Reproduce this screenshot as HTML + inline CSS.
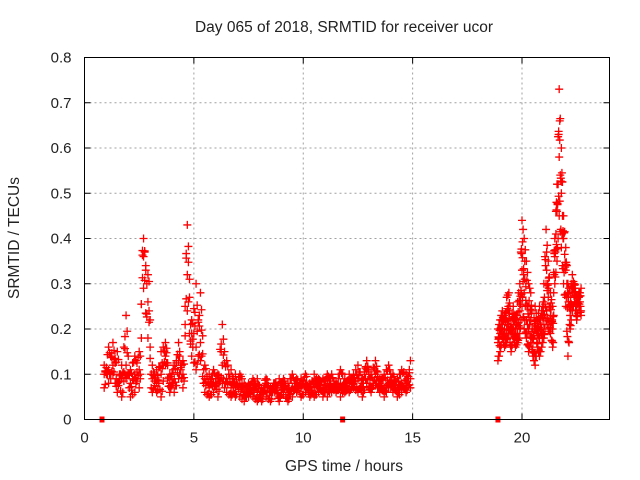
<!DOCTYPE html>
<html><head><meta charset="utf-8"><style>
body{margin:0;background:#fff;}
svg{display:block;font-family:"Liberation Sans",sans-serif;}
</style></head><body>
<svg id="chart" width="640" height="480">
<rect width="640" height="480" fill="#fff"/>
<text x="344" y="32" text-anchor="middle" font-size="15.5" fill="#222">Day 065 of 2018, SRMTID for receiver ucor</text>
<text x="344" y="471" text-anchor="middle" font-size="15.5" fill="#222">GPS time / hours</text>
<text transform="translate(19,238) rotate(-90)" text-anchor="middle" font-size="15.5" fill="#222">SRMTID / TECUs</text>
<g id="grid"></g>
<g id="marks"></g>
<rect x="84.5" y="57.5" width="525" height="362" fill="none" stroke="#000"/>
<g id="ticks"></g>
</svg>
<script>
const xTicks=[0,5,10,15,20];
const yTicks=[0,0.1,0.2,0.3,0.4,0.5,0.6,0.7,0.8];
const yTickLabels=["0","0.1","0.2","0.3","0.4","0.5","0.6","0.7","0.8"];
const times1=[0.9,1.1,1.3,1.5,1.7,1.9,2.1,2.3,2.5,2.7,2.9,3.1,3.3,3.5,3.7,3.9,4.1,4.3,4.5,4.7,4.9,5.1,5.3,5.5,5.7,5.9,6.1,6.3,6.5,6.7,6.9,7.1,7.3,7.5,7.7,7.9,8.1,8.3,8.5,8.7,8.9,9.1,9.3,9.5,9.7,9.9,10.1,10.3,10.5,10.7,10.9,11.1,11.3,11.5,11.7,11.9,12.1,12.3,12.5,12.7,12.9,13.1,13.3,13.5,13.7,13.9,14.1,14.3,14.5,14.7,14.9];
const valsA1=[0.07,0.16,0.12,0.15,0.05,0.12,0.08,0.10,0.15,0.36,0.32,0.12,0.08,0.15,0.17,0.08,0.12,0.13,0.10,0.32,0.22,0.16,0.28,0.09,0.10,0.08,0.10,0.21,0.09,0.11,0.07,0.08,0.06,0.08,0.07,0.09,0.06,0.08,0.07,0.06,0.09,0.07,0.08,0.10,0.06,0.09,0.08,0.07,0.10,0.08,0.09,0.08,0.10,0.07,0.11,0.09,0.08,0.10,0.12,0.09,0.11,0.10,0.13,0.08,0.10,0.12,0.08,0.09,0.11,0.10,0.09];
const valsB1=[0.10,0.11,0.17,0.08,0.09,0.23,0.05,0.06,0.11,0.40,0.26,0.06,0.11,0.05,0.12,0.06,0.09,0.17,0.07,0.43,0.19,0.30,0.13,0.06,0.05,0.06,0.09,0.08,0.06,0.05,0.10,0.05,0.04,0.06,0.05,0.04,0.07,0.05,0.04,0.08,0.05,0.06,0.04,0.07,0.09,0.05,0.06,0.08,0.05,0.06,0.07,0.05,0.07,0.06,0.08,0.06,0.10,0.07,0.06,0.08,0.13,0.07,0.08,0.06,0.07,0.08,0.06,0.07,0.08,0.06,0.13];
const valsC1=[0.12,0.08,0.10,0.06,0.12,0.09,0.11,0.14,0.07,0.29,0.18,0.09,0.06,0.10,0.14,0.10,0.06,0.09,0.13,0.24,0.14,0.11,0.17,0.12,0.07,0.11,0.05,0.12,0.13,0.07,0.05,0.10,0.08,0.05,0.09,0.06,0.04,0.09,0.06,0.08,0.04,0.09,0.06,0.05,0.08,0.07,0.10,0.05,0.07,0.09,0.05,0.10,0.06,0.08,0.05,0.07,0.06,0.08,0.09,0.05,0.08,0.06,0.10,0.09,0.05,0.07,0.10,0.05,0.06,0.08,0.07];
const times2=[18.9,19.0,19.1,19.2,19.3,19.4,19.5,19.6,19.7,19.8,19.9,20.0,20.1,20.2,20.3,20.4,20.5,20.6,20.7,20.8,20.9,21.0,21.1,21.2,21.3,21.4,21.5,21.6,21.7,21.8,21.9,22.0,22.1,22.2,22.3,22.4,22.5,22.6,22.7];
const valsA2=[0.20,0.22,0.24,0.20,0.27,0.28,0.22,0.25,0.20,0.26,0.30,0.44,0.40,0.35,0.30,0.28,0.20,0.25,0.22,0.25,0.20,0.30,0.42,0.35,0.28,0.25,0.40,0.52,0.73,0.60,0.45,0.38,0.30,0.28,0.32,0.29,0.27,0.28,0.24];
const valsB2=[0.13,0.15,0.18,0.16,0.17,0.19,0.15,0.18,0.16,0.17,0.19,0.25,0.20,0.18,0.15,0.17,0.14,0.12,0.16,0.14,0.16,0.18,0.22,0.20,0.19,0.16,0.30,0.35,0.45,0.38,0.30,0.25,0.14,0.20,0.24,0.26,0.22,0.25,0.23];
const valsC2=[0.17,0.19,0.21,0.23,0.20,0.22,0.19,0.21,0.23,0.19,0.24,0.33,0.28,0.22,0.20,0.22,0.17,0.20,0.19,0.18,0.24,0.21,0.30,0.27,0.23,0.20,0.36,0.46,0.58,0.50,0.40,0.33,0.27,0.23,0.28,0.30,0.25,0.27,0.29];
const zeroTimes=[0.8,11.8,18.9];

const L=84.5,R=609.5,T=57.5,B=419.5,XMAX=24,YMAX=0.8;
const xs=v=>L+(R-L)*v/XMAX;
const ys=v=>B-(B-T)*v/YMAX;
const NS="http://www.w3.org/2000/svg";
function mk(tag,attrs,parent){const e=document.createElementNS(NS,tag);for(const k in attrs)e.setAttribute(k,attrs[k]);parent.appendChild(e);return e;}
const grid=document.getElementById('grid'),ticks=document.getElementById('ticks'),marks=document.getElementById('marks');
xTicks.forEach(t=>{
  const x=xs(t);
  if(t>0){const g=mk('line',{x1:x,x2:x,y1:T,y2:B,stroke:'#a0a0a0','stroke-dasharray':'2,3'},grid);
  
  }
  mk('line',{x1:x,x2:x,y1:B,y2:B-6,stroke:'#000'},ticks);
  mk('line',{x1:x,x2:x,y1:T,y2:T+6,stroke:'#000'},ticks);
  const tx=mk('text',{x:x,y:B+23,'text-anchor':'middle','font-size':15,fill:'#222'},ticks);
  tx.textContent=String(t);
  
  
});
yTicks.forEach((t,i)=>{
  const y=ys(t);
  if(t>0&&t<YMAX){const g=mk('line',{x1:L,x2:R,y1:y,y2:y,stroke:'#a0a0a0','stroke-dasharray':'2,3'},grid);
  
  }
  mk('line',{x1:L,x2:L+6,y1:y,y2:y,stroke:'#000'},ticks);
  mk('line',{x1:R,x2:R-6,y1:y,y2:y,stroke:'#000'},ticks);
  const tx=mk('text',{x:L-13,y:y+5,'text-anchor':'end','font-size':15,fill:'#222'},ticks);
  tx.textContent=yTickLabels[i];
  
  
});
function plus(t,v){
  const x=xs(t),y=ys(v);
  const p=mk('path',{d:`M${x-4},${y}H${x+4}M${x},${y-4}V${y+4}`,stroke:'#f00','stroke-width':1.3,fill:'none'},marks);
  
  
}
function drawSeg(ts,sets){
  sets.forEach((vs,k)=>{
    const other=sets[(k+1)%sets.length];
    const n=Math.min(ts.length,vs.length);
    for(let i=0;i<n;i++){
      plus(ts[i],vs[i]);
      if(i+1<n){
        const dt=ts[i+1]-ts[i];
        plus(ts[i]+dt*0.25,(vs[i]*3+other[i])/4);
        plus(ts[i]+dt*0.5,(vs[i]+vs[i+1])/2);
        plus(ts[i]+dt*0.75,(vs[i+1]*2+other[i+1])/3);
      }
    }
  });
}
drawSeg(times1,[valsA1,valsB1,valsC1]);
drawSeg(times2,[valsA2,valsB2,valsC2]);
zeroTimes.forEach(t=>{
  const r=mk('rect',{x:xs(t)-2.5,y:B-3,width:5,height:6,fill:'#f00'},marks);
  
  
});
</script>
</body></html>
